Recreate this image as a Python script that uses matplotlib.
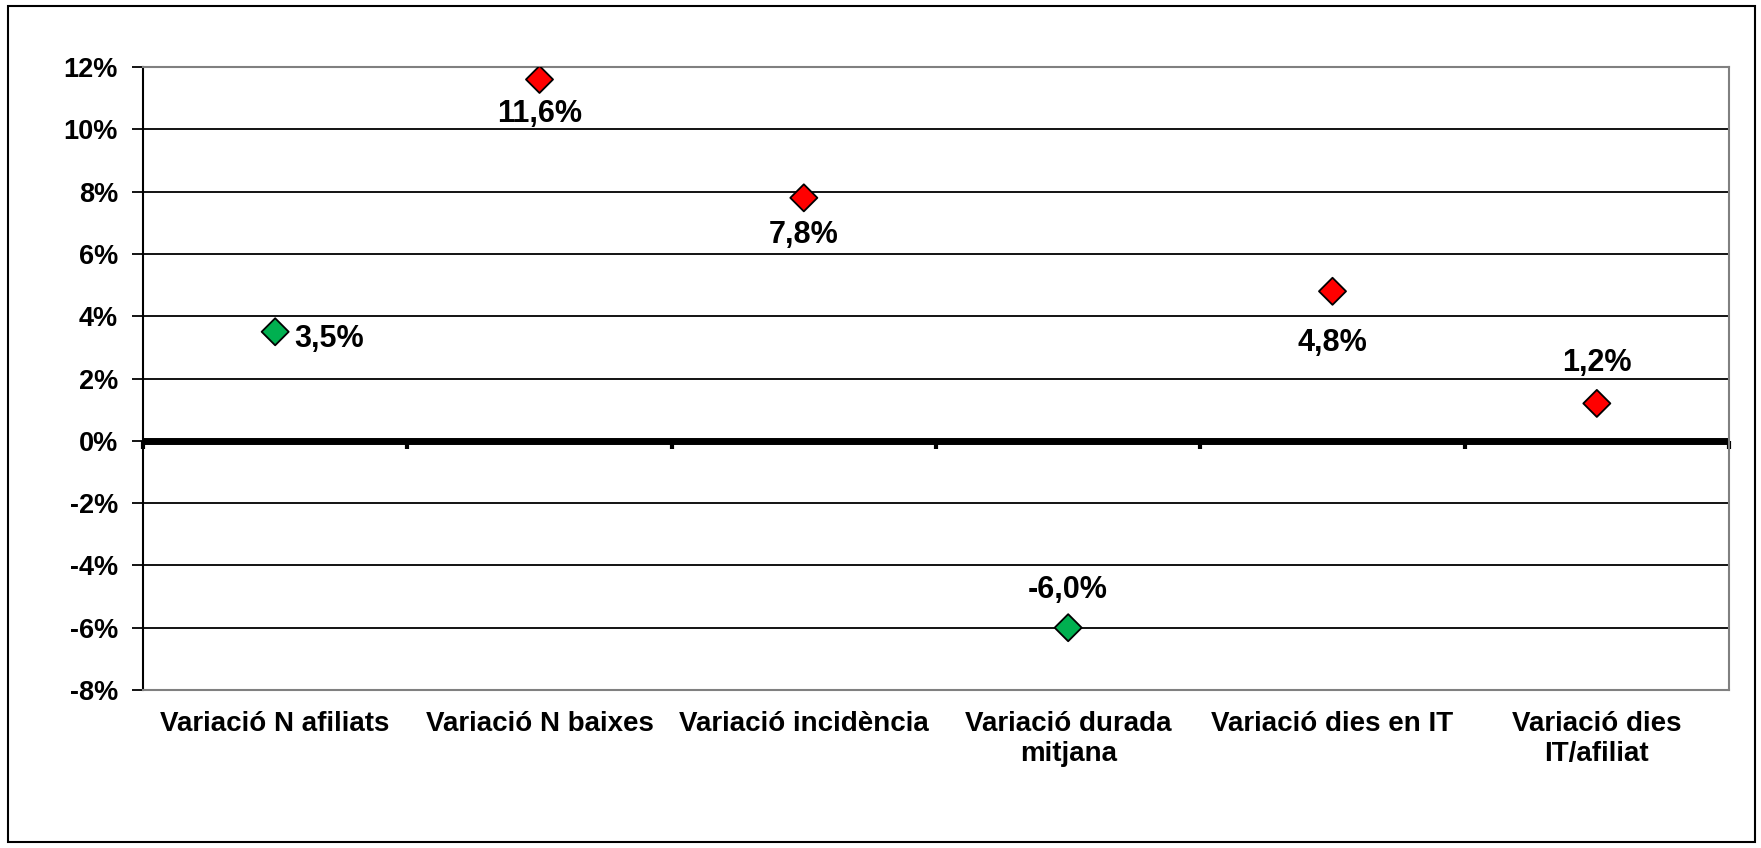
import numpy as np
import matplotlib.pyplot as plt
from matplotlib.patches import Rectangle

plt.rcParams['font.family'] = ['Liberation Sans', 'DejaVu Sans']
plt.rcParams['font.weight'] = 'bold'

categories = ['Variació N afiliats', 'Variació N baixes', 'Variació incidència',
              'Variació durada\nmitjana', 'Variació dies en IT', 'Variació dies\nIT/afiliat']
values = [3.5, 11.6, 7.8, -6.0, 4.8, 1.2]
labels = ['3,5%', '11,6%', '7,8%', '-6,0%', '4,8%', '1,2%']
colors = ['#00B050', '#FF0000', '#FF0000', '#00B050', '#FF0000', '#FF0000']
# label placement: (dx, dy) in points
offsets = [(14, -5), (0, -25), (0, -27), (0, 27), (0, -37), (0, 29)]
yticks = np.arange(-8, 13, 2)

fig = plt.figure(figsize=(17.61, 8.48), dpi=100)
fig.patches.append(Rectangle((8/1761, 6/848), 1747/1761, 836/848, transform=fig.transFigure,
                             fill=False, edgecolor='black', linewidth=1.5))
ax = fig.add_axes([143/1761, 158/848, 1586/1761, 623/848])

x = np.arange(len(categories))
for yt in yticks[1:-1]:
    if yt != 0:
        ax.axhline(yt, color='black', linewidth=1.3, zorder=1)
ax.axhline(0, color='black', linewidth=5, zorder=2)

ax.scatter(x, values, marker='D', s=190, c=colors, edgecolors='black', linewidths=1.3, zorder=5)
for xi, v, lab, (dx, dy) in zip(x, values, labels, offsets):
    ax.annotate(lab, (xi, v), xytext=(dx, dy), textcoords='offset points',
                ha='left' if dx > 0 else 'center', va='center', fontsize=22, fontweight='bold')

ax.set_xlim(-0.5, len(categories) - 0.5)
ax.set_ylim(-8, 12)
ax.set_yticks(yticks)
ax.set_yticklabels([f'{t}%' for t in yticks])
ax.set_xticks(x)
ax.set_xticklabels(categories, va='top')
ax.tick_params(axis='x', length=0, pad=15, labelsize=20)
ax.tick_params(axis='y', length=8, width=1.3, direction='out', labelsize=19.5, pad=10)

for s in ['top', 'right', 'bottom']:
    ax.spines[s].set_color('#808080')
    ax.spines[s].set_linewidth(1.5)
ax.spines['left'].set_color('black')
ax.spines['left'].set_linewidth(1.5)

# small tick marks on the zero line at category boundaries
sec = ax.secondary_xaxis(0.4)
sec.set_xticks(np.arange(len(categories) + 1) - 0.5)
sec.set_xticklabels([])
sec.tick_params(length=6, width=3, direction='out', color='black')
sec.spines['bottom'].set_visible(False)

fig.savefig('out.png', dpi=100)
